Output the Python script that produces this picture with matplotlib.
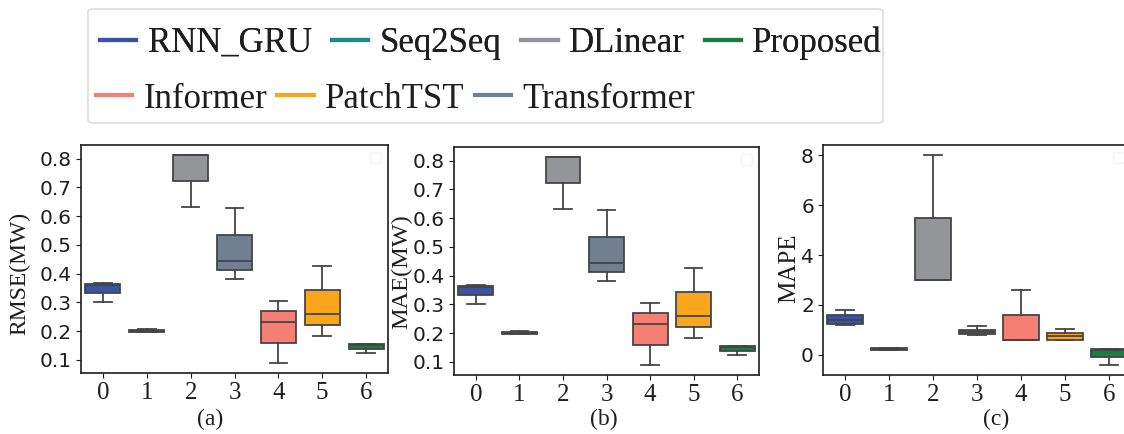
import numpy as np
import matplotlib
matplotlib.use("Agg")
import matplotlib.pyplot as plt
from matplotlib.lines import Line2D
from matplotlib.patches import FancyBboxPatch

# model order along the x axis of each panel
models = ["RNN_GRU", "Seq2Seq", "DLinear", "Transformer", "Informer", "PatchTST", "Proposed"]
colors = ["#3a53a4", "#1b8a86", "#949599", "#708090", "#f47f72", "#f9a61d", "#15803f"]

# five runs per model (min, q1, median, q3, max)
rmse = [
    [0.302, 0.331, 0.360, 0.363, 0.366],
    [0.195, 0.197, 0.200, 0.204, 0.206],
    [0.631, 0.721, 0.811, 0.811, 0.811],
    [0.382, 0.411, 0.442, 0.534, 0.628],
    [0.090, 0.160, 0.232, 0.268, 0.305],
    [0.182, 0.220, 0.260, 0.342, 0.426],
    [0.124, 0.137, 0.150, 0.154, 0.154],
]
mae = [
    [0.302, 0.331, 0.360, 0.363, 0.366],
    [0.195, 0.197, 0.200, 0.204, 0.206],
    [0.631, 0.721, 0.811, 0.811, 0.811],
    [0.382, 0.411, 0.442, 0.534, 0.628],
    [0.090, 0.160, 0.232, 0.268, 0.305],
    [0.182, 0.220, 0.260, 0.342, 0.426],
    [0.124, 0.137, 0.150, 0.154, 0.154],
]
mape = [
    [1.18, 1.22, 1.38, 1.58, 1.80],
    [0.17, 0.20, 0.22, 0.25, 0.27],
    [3.00, 3.00, 3.00, 5.50, 8.00],
    [0.80, 0.82, 0.90, 0.98, 1.14],
    [0.58, 0.58, 0.58, 1.58, 2.60],
    [0.58, 0.60, 0.74, 0.85, 1.03],
    [-0.40, -0.10, 0.20, 0.24, 0.24],
]
ylabels = ["RMSE(MW)", "MAE(MW)", "MAPE"]
panel_tags = ["(a)", "(b)", "(c)"]

W, H = 1124, 434
fig = plt.figure(figsize=(W / 100, H / 100), dpi=100)

serif = "Liberation Serif"
sans = "DejaVu Sans"
edge = "#454545"
ink = "#1e1e1e"

# axes rectangles in pixels: left, right, top, bottom
boxes_px = [(81, 388, 145, 373), (454, 759, 147, 375), (823, 1131, 145, 375)]
ylab_px = [(20, 273, 17), (402, 272, 17.5), (789, 268, 18)]
tag_px = [(210, 419), (604, 419), (996, 419)]

for i, vals in enumerate([rmse, mae, mape]):
    l, r, t, b = boxes_px[i]
    ax = fig.add_axes([l / W, 1 - b / H, (r - l) / W, (b - t) / H])
    bp = ax.boxplot(vals, positions=range(len(models)), widths=0.8,
                    patch_artist=True, showfliers=False,
                    medianprops=dict(color=edge, linewidth=1.3),
                    whiskerprops=dict(color=edge, linewidth=1.3),
                    capprops=dict(color=edge, linewidth=1.3),
                    boxprops=dict(edgecolor=edge, linewidth=1.3))
    for patch, c in zip(bp["boxes"], colors):
        patch.set_facecolor(c)
    ax.set_xlim(-0.5, len(models) - 0.5)
    ax.margins(y=0.05)
    ax.set_xticks(range(len(models)))
    ax.set_xticklabels([str(k) for k in range(len(models))], fontfamily=serif, fontsize=18)
    if i < 2:
        ax.set_yticks([0.1, 0.2, 0.3, 0.4, 0.5, 0.6, 0.7, 0.8])
    else:
        ax.set_yticks([0, 2, 4, 6, 8])
    for lab in ax.get_yticklabels():
        lab.set_fontfamily(sans)
        lab.set_fontsize(14.5)
    ax.tick_params(axis="both", colors=ink, labelcolor=ink, pad=3)
    for s in ax.spines.values():
        s.set_color(ink)
        s.set_linewidth(1.2)
    # empty legend box left in the corner
    ax.legend(handles=[], loc="upper right", framealpha=0.8, edgecolor="#f2f2f2")

    x, y, fs = ylab_px[i]
    fig.text(x / W, 1 - y / H, ylabels[i], rotation=90, ha="center", va="center",
             fontfamily=serif, fontsize=fs, color=ink)
    tx, ty = tag_px[i]
    fig.text(tx / W, 1 - ty / H, panel_tags[i], ha="center", va="center",
             fontfamily=serif, fontsize=17, color=ink)

# legend: two rows inside one rounded frame
handle = {m: Line2D([], [], color=c, linewidth=3) for m, c in zip(models, colors)}
row1 = ["RNN_GRU", "Seq2Seq", "DLinear", "Proposed"]
row2 = ["Informer", "PatchTST", "Transformer"]
common = dict(loc="center left", frameon=False, borderpad=0, borderaxespad=0,
              handlelength=1.05, handletextpad=0.32,
              prop=dict(family=serif, size=25), labelcolor=ink,
              bbox_transform=fig.transFigure)
leg1 = fig.legend([handle[m] for m in row1], row1, ncol=4, columnspacing=0.58,
                  bbox_to_anchor=(100 / W, 1 - 43 / H), **common)
leg2 = fig.legend([handle[m] for m in row2], row2, ncol=3, columnspacing=0.29,
                  bbox_to_anchor=(96 / W, 1 - 99 / H), **common)
fig.add_artist(leg1)
frame = FancyBboxPatch((88 / W, 1 - 123 / H), (883 - 88) / W, (123 - 9) / H,
                       boxstyle="round,pad=0,rounding_size=0.006",
                       transform=fig.transFigure, facecolor="white",
                       edgecolor="#dddddd", linewidth=1.2, zorder=-1)
fig.add_artist(frame)

fig.savefig("out.png", dpi=100)
